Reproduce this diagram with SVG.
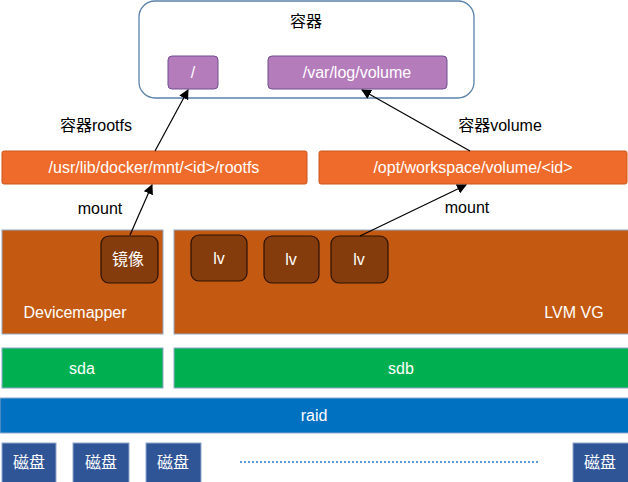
<svg xmlns="http://www.w3.org/2000/svg" width="628" height="482" viewBox="0 0 628 482">
<defs>
<marker id="ah" markerWidth="10" markerHeight="10" refX="9" refY="5" orient="auto" markerUnits="userSpaceOnUse"><path d="M0,0 L10,5 L0,10 z" fill="#000"/></marker>
<style>
text{font-family:"Liberation Sans","Noto Sans CJK SC",sans-serif;font-size:16px;text-anchor:middle;dominant-baseline:central}
.w{fill:#fff}
.k{fill:#000}
.p{fill:#b57cbc;stroke:#6f4f8f;stroke-width:1}
.o{fill:#ef6b2b;stroke:#c9561e;stroke-width:1}
.b{fill:#c45a11;stroke:#8fa8cc;stroke-width:1}
.d{fill:#843c0c;stroke:#2a1205;stroke-width:1.2}
.g{fill:#00b050;stroke:#8fa8cc;stroke-width:1}
.r{fill:#0070c0;stroke:#8fa8cc;stroke-width:1}
.m{fill:#2f5597;stroke:#8fa8cc;stroke-width:1}
.c{stroke:#000;stroke-width:1.2;fill:none;marker-end:url(#ah)}
</style>
</defs>
<g id="container"><rect x="139" y="1" width="335" height="97" rx="16" fill="#fff" stroke="#5b82aa" stroke-width="1.3"/><text x="306" y="21" class="k">容器</text></g>
<g id="root"><rect class="p" x="168" y="56" width="50" height="33" rx="4"/><text class="w" x="193" y="72">/</text></g>
<g id="varlog"><rect class="p" x="268" y="56" width="179" height="33" rx="4"/><text class="w" x="357" y="72">/var/log/volume</text></g>
<g id="rootfs"><rect class="o" x="2" y="151" width="305" height="33" rx="2"/><text class="w" x="154" y="167">/usr/lib/docker/mnt/&lt;id&gt;/rootfs</text></g>
<g id="workspace"><rect class="o" x="319" y="151" width="308" height="33" rx="2"/><text class="w" x="473" y="167">/opt/workspace/volume/&lt;id&gt;</text></g>
<g id="devicemapper"><rect class="b" x="2" y="230" width="161" height="104"/><text class="w" x="75" y="312" font-size="17">Devicemapper</text></g>
<g id="lvmvg"><rect class="b" x="174" y="230" width="456" height="104"/><text class="w" x="574" y="312" font-size="17">LVM VG</text></g>
<g id="image"><rect class="d" x="101" y="236" width="57" height="47" rx="8"/><text class="w" x="128" y="259">镜像</text></g>
<g id="lv1"><rect class="d" x="191" y="235" width="56" height="46" rx="8"/><text class="w" x="219" y="258">lv</text></g>
<g id="lv2"><rect class="d" x="264" y="236" width="55" height="47" rx="8"/><text class="w" x="291" y="259">lv</text></g>
<g id="lv3"><rect class="d" x="331" y="236" width="57" height="47" rx="8"/><text class="w" x="359" y="259">lv</text></g>
<g id="sda"><rect class="g" x="2" y="348" width="161" height="40"/><text class="w" x="82" y="368">sda</text></g>
<g id="sdb"><rect class="g" x="174" y="348" width="456" height="40"/><text class="w" x="401" y="368">sdb</text></g>
<g id="raid"><rect class="r" x="0" y="398" width="630" height="35"/><text class="w" x="314" y="415">raid</text></g>
<g id="disk1"><rect class="m" x="2" y="443" width="54" height="41"/><text class="w" x="29" y="462">磁盘</text></g>
<g id="disk2"><rect class="m" x="73" y="443" width="56" height="41"/><text class="w" x="101" y="462">磁盘</text></g>
<g id="disk3"><rect class="m" x="146" y="443" width="55" height="41"/><text class="w" x="173" y="462">磁盘</text></g>
<g id="disk4"><rect class="m" x="573" y="443" width="57" height="41"/><text class="w" x="600" y="462">磁盘</text></g>
<g id="connectors">
<line class="c" x1="130" y1="235" x2="152" y2="185"/>
<line class="c" x1="155" y1="151" x2="188" y2="90"/>
<line class="c" x1="360" y1="236" x2="466" y2="185"/>
<line class="c" x1="470" y1="151" x2="362" y2="90"/>
<line x1="240" y1="462" x2="540" y2="462" stroke="#5b9bd5" stroke-width="2" stroke-dasharray="2,2"/>
</g>
<text class="k" x="96" y="125" font-size="17">容器rootfs</text>
<text class="k" x="500" y="125" font-size="17">容器volume</text>
<text class="k" x="100" y="208">mount</text>
<text class="k" x="467" y="207">mount</text>
</svg>
